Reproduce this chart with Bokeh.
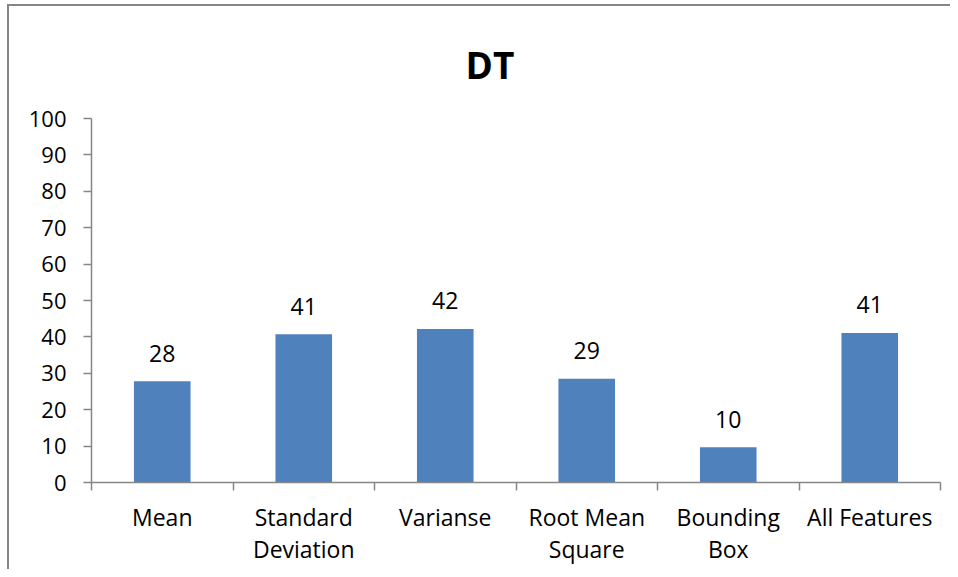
from bokeh.plotting import figure
from bokeh.models import FixedTicker, Title, ColumnDataSource
from bokeh.core.properties import value
from bokeh.embed import file_html
from bokeh.resources import INLINE

# ---- data ----
categories = ["Mean", "Standard\nDeviation", "Varianse", "Root Mean\nSquare", "Bounding\nBox", "All Features"]
values = [27.8, 40.7, 42.2, 28.5, 9.7, 41.1]
value_labels = ["28", "41", "42", "29", "10", "41"]
y_ticks = [0, 10, 20, 30, 40, 50, 60, 70, 80, 90, 100]
title_text = "DT"

FONT = "Open Sans"
GRAY = "#868686"
BAR = "#4F81BD"

xpos = [i + 0.5 for i in range(len(categories))]
bounds = [i for i in range(len(categories) + 1)]
src = ColumnDataSource(dict(x=xpos, top=values, label=value_labels))

p = figure(width=950, height=569, output_backend="svg", toolbar_location=None,
           x_range=(0, len(categories)), y_range=(0, 100),
           min_border_left=91, min_border_top=118, min_border_right=10, min_border_bottom=87)
p.outline_line_color = None
p.grid.visible = False
p.border_fill_color = None
p.background_fill_color = None
p.styles = {
    "background-color": "white",
    "background-image": f"linear-gradient({GRAY},{GRAY}), linear-gradient({GRAY},{GRAY})",
    "background-size": "100% 2px, 2px 100%",
    "background-position": "7px 4px, 7px 4px",
    "background-repeat": "no-repeat",
}

p.vbar(x="x", top="top", width=0.4, bottom=0, source=src, fill_color=BAR, line_color=None)
p.text(x="x", y="top", text="label", source=src, text_align="center", text_baseline="alphabetic",
       y_offset=-28, text_font=value(FONT), text_font_size="23px", text_color="black")

xa = p.xaxis[0]
xa.ticker = FixedTicker(ticks=xpos, minor_ticks=bounds)
xa.major_label_overrides = {xv: c for xv, c in zip(xpos, categories)}
xa.major_tick_out = 0
xa.major_tick_in = 0
xa.minor_tick_out = 8
xa.minor_tick_in = 0
xa.minor_tick_line_color = GRAY
xa.minor_tick_line_width = 1.5
xa.axis_line_color = GRAY
xa.axis_line_width = 1.5
xa.major_label_standoff = 10
xa.major_label_text_font = FONT
xa.major_label_text_font_size = "23px"
xa.major_label_text_color = "black"
xa.major_label_text_line_height = 1.03

ya = p.yaxis[0]
ya.ticker = FixedTicker(ticks=y_ticks)
ya.major_tick_out = 8
ya.major_tick_in = 0
ya.minor_tick_out = 0
ya.minor_tick_in = 0
ya.major_tick_line_color = GRAY
ya.major_tick_line_width = 1.5
ya.axis_line_color = GRAY
ya.axis_line_width = 1.5
ya.major_label_standoff = 17
ya.major_label_text_font = FONT
ya.major_label_text_font_size = "22px"
ya.major_label_text_color = "black"

p.add_layout(Title(text=title_text, align="left", offset=374, standoff=58,
                   text_font=FONT, text_font_size="37px", text_font_style="bold",
                   text_color="black"), "above")

open("out.html", "w").write(file_html(p, INLINE))
